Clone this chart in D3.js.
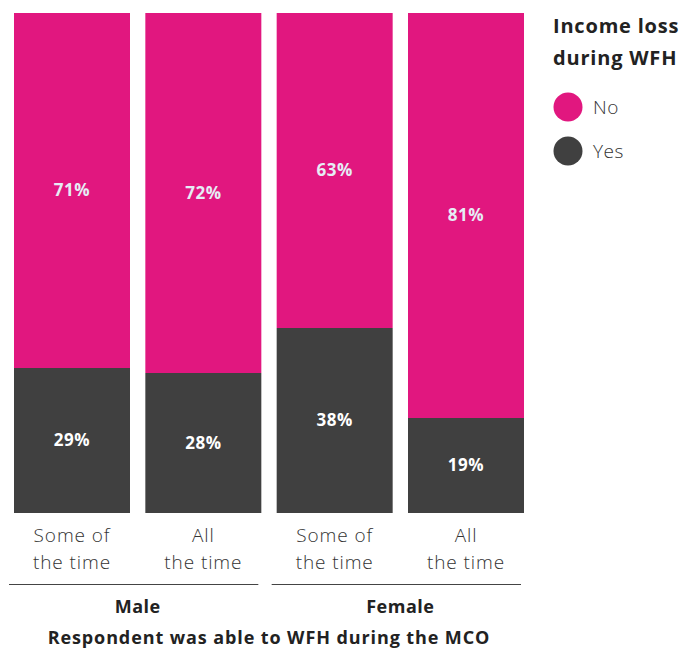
<!DOCTYPE html>
<html>
<head>
<meta charset="utf-8">
<script src="https://cdn.jsdelivr.net/npm/d3@7"></script>
<style>
  body { margin: 0; background: #fff; }
  svg { font-family: "Open Sans", Lato, sans-serif; }
</style>
</head>
<body>
<svg id="chart" width="698" height="650"></svg>
<script>
// data
var categories = ["Male|Some of", "Male|All", "Female|Some of", "Female|All"];
var tickLines = [["Some of", "the time"], ["All", "the time"], ["Some of", "the time"], ["All", "the time"]];
var groups = ["Male", "Female"];
var noValues = [71, 72, 63, 81];
var yesValues = [29, 28, 38, 19];
var seriesNames = ["No", "Yes"];
var colors = ["#e1177f", "#404040"];

var svg = d3.select("#chart");

var x = d3.scaleBand().domain(categories).range([14, 524]).paddingInner(0.1168).paddingOuter(0);
// measured from the top: "No" first, "Yes" fills the rest (clamped at 100)
var y = d3.scaleLinear().domain([0, 100]).range([13, 513]).clamp(true);

var rows = categories.map((c, i) => ({ cat: c, No: noValues[i], Yes: yesValues[i] }));
var stack = d3.stack().keys(["No", "Yes"]);
var series = stack(rows);

var layer = svg.selectAll("g.layer")
  .data(series)
  .join("g")
    .attr("class", "layer")
    .attr("fill", d => d.key == "No" ? colors[0] : colors[1]);

layer.selectAll("rect")
  .data(d => d)
  .join("rect")
    .attr("x", d => x(d.data.cat))
    .attr("width", x.bandwidth())
    .attr("y", d => y(d[0]))
    .attr("height", d => y(d[1]) - y(d[0]));

// value labels
layer.selectAll("text")
  .data(d => d.map(v => ({ v: v, key: d.key })))
  .join("text")
    .attr("x", d => x(d.v.data.cat) + x.bandwidth() / 2)
    .attr("y", d => (y(d.v[0]) + y(d.v[1])) / 2)
    .attr("dy", "0.35em")
    .attr("text-anchor", "middle")
    .attr("fill", d => d.key == "No" ? "#e6edf5" : "#ffffff")
    .style("font-weight", 700)
    .style("font-size", "17px")
    .style("letter-spacing", "0.5px")
    .text(d => d.v.data[d.key] + "%");

// category labels
var tick = svg.selectAll("g.tick")
  .data(categories)
  .join("g")
    .attr("class", "tick")
    .attr("transform", d => `translate(${x(d) + x.bandwidth() / 2},0)`);

tick.selectAll("text")
  .data((d, i) => tickLines[i])
  .join("text")
    .attr("text-anchor", "middle")
    .attr("y", (d, i) => 542 + i * 27)
    .attr("fill", "#333")
    .style("font-size", "19px")
    .style("font-weight", 300)
    .style("letter-spacing", "0.9px")
    .text(d => d);

// group lines and labels
var groupSpan = groups.map(g => {
  var cs = categories.filter(c => c.startsWith(g + "|"));
  return { name: g, x0: x(cs[0]), x1: x(cs[cs.length - 1]) + x.bandwidth() };
});

svg.selectAll("line.group")
  .data(groupSpan)
  .join("line")
    .attr("class", "group")
    .attr("x1", d => d.x0 - 5)
    .attr("x2", d => d.x1 - 3)
    .attr("y1", 584.5)
    .attr("y2", 584.5)
    .attr("stroke", "#444")
    .attr("stroke-width", 1);

svg.selectAll("text.group")
  .data(groupSpan)
  .join("text")
    .attr("class", "group")
    .attr("x", d => (d.x0 + d.x1) / 2)
    .attr("y", 613)
    .attr("text-anchor", "middle")
    .attr("fill", "#222")
    .style("font-weight", 700)
    .style("font-size", "18px")
    .style("letter-spacing", "0.5px")
    .text(d => d.name);

svg.append("text")
  .attr("x", 269)
  .attr("y", 644)
  .attr("text-anchor", "middle")
  .attr("fill", "#222")
  .style("font-weight", 700)
  .style("font-size", "18px")
  .style("letter-spacing", "0.9px")
  .text("Respondent was able to WFH during the MCO");

// legend
var legend = svg.append("g").attr("transform", "translate(553,0)");
legend.append("text")
  .attr("y", 33)
  .attr("fill", "#222")
  .style("font-weight", 700)
  .style("font-size", "20px")
  .style("letter-spacing", "0.8px")
  .text("Income loss");
legend.append("text")
  .attr("y", 65)
  .attr("fill", "#222")
  .style("font-weight", 700)
  .style("font-size", "20px")
  .style("letter-spacing", "0.8px")
  .text("during WFH");

var item = legend.selectAll("g.item")
  .data(seriesNames)
  .join("g")
    .attr("class", "item")
    .attr("transform", (d, i) => `translate(0,${107 + i * 44})`);
item.append("circle")
  .attr("cx", 15)
  .attr("r", 14.5)
  .attr("fill", (d, i) => colors[i]);
item.append("text")
  .attr("x", 40)
  .attr("dy", "0.35em")
  .attr("fill", "#333")
  .style("font-size", "19px")
  .style("font-weight", 300)
  .style("letter-spacing", "0.5px")
  .text(d => d);
</script>
</body>
</html>
